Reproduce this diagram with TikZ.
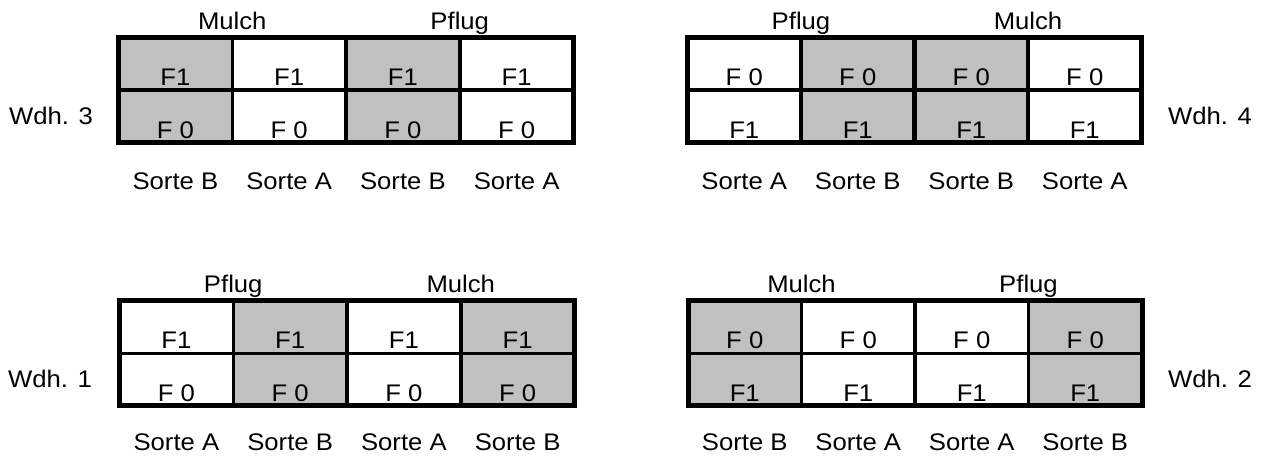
\documentclass[tikz,border=0pt]{standalone}
\usepackage{fontspec}
\setmainfont{Liberation Sans}[FakeStretch=1.07]
\definecolor{cellgray}{RGB}{192,192,192}
\newcommand\cw{113.75}
\newcommand\sy{152}
\newcommand\rsblock[9]{%
  \begin{scope}[shift={(#2,#3)}]
    \foreach \c in {#4} \fill[cellgray] ({(\c-1)*\cw},0) rectangle ({\c*\cw},105);
    \foreach \c in {1,...,4} {
      \node[lbl] (#1-a\c) at ({(\c-0.5)*\cw},48) {#5};
      \node[lbl] (#1-b\c) at ({(\c-0.5)*\cw},100.5) {#6};
    }
    \draw[midline] (0,52.5) -- ({4*\cw},52.5);
    \draw[divline] (\cw,0) -- (\cw,105);
    \draw[divline] ({3*\cw},0) -- ({3*\cw},105);
    \draw[centerline] ({2*\cw},0) -- ({2*\cw},105);
    \draw[frame] (0,0) rectangle ({4*\cw},105);
    \node[lbl] (#1-h1) at (\cw,-8) {#7};
    \node[lbl] (#1-h2) at ({3*\cw},-8) {#8};
    \foreach \s [count=\c] in {#9}
      \node[lbl] (#1-s\c) at ({(\c-0.5)*\cw},\sy) {Sorte \s};
  \end{scope}}
\begin{document}
\begin{tikzpicture}[x=1pt,y=-1pt,
  lbl/.style={font=\fontsize{24}{28}\selectfont, inner sep=0pt, anchor=base},
  frame/.style={draw=black, line width=5pt},
  midline/.style={draw=black, line width=3.5pt},
  divline/.style={draw=black, line width=3.5pt},
  centerline/.style={draw=black, line width=4.2pt}]
\useasboundingbox (0,0) rectangle (1263,455);
\renewcommand\cw{113.75}
\rsblock{tl}{118.5}{37.5}{1,3}{F1}{F 0}{Mulch}{Pflug}{B,A,B,A}
\renewcommand\sy{149.5}
\rsblock{bl}{119.5}{300.8}{2,4}{F1}{F 0}{Pflug}{Mulch}{A,B,A,B}
\renewcommand\cw{113.5}
\renewcommand\sy{152}
\rsblock{tr}{687.5}{37.5}{2,3}{F 0}{F1}{Pflug}{Mulch}{A,B,B,A}
\renewcommand\sy{149.5}
\rsblock{br}{688}{300.8}{1,4}{F 0}{F1}{Mulch}{Pflug}{B,A,A,B}
\node[lbl] (w3) at (51,124.5) {Wdh. 3};
\node[lbl] (w1) at (50,387.8) {Wdh. 1};
\node[lbl] (w4) at (1210,124.5) {Wdh. 4};
\node[lbl] (w2) at (1210,387.8) {Wdh. 2};
\end{tikzpicture}
\end{document}
